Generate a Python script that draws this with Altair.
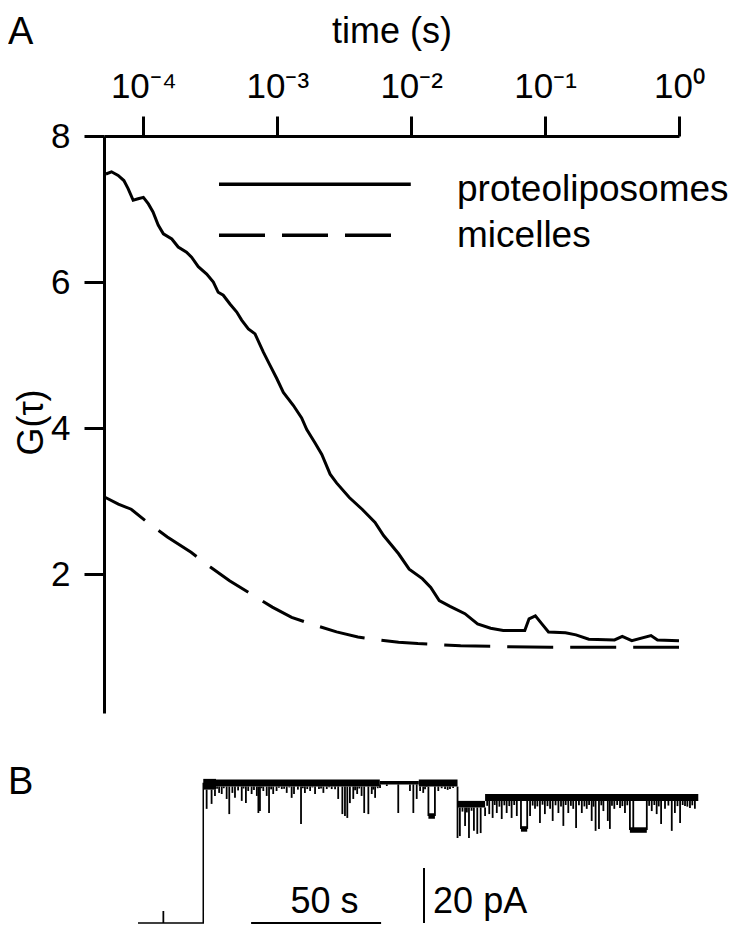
import altair as alt
import pandas as pd

FONT = "Liberation Sans"

# ---------------- Panel A : correlation curves ----------------
prot_t = [5.25e-5, 5.78e-5, 6.48e-5, 7.15e-5, 7.69e-5, 8.39e-5, 9.14e-5, 1.0e-4, 1.09e-4, 1.18e-4,
          1.29e-4, 1.41e-4, 1.63e-4, 1.82e-4, 2.10e-4, 2.29e-4, 2.57e-4, 2.97e-4, 3.33e-4, 3.62e-4,
          3.95e-4, 4.43e-4, 4.98e-4, 5.42e-4, 6.08e-4, 6.82e-4, 7.87e-4, 8.83e-4, 9.91e-4, 1.11e-3,
          1.32e-3, 1.52e-3, 1.66e-3, 1.91e-3, 2.15e-3, 2.48e-3, 2.77e-3, 3.45e-3, 4.30e-3, 5.37e-3,
          6.22e-3, 8.05e-3, 9.66e-3, 1.21e-2, 1.40e-2, 1.62e-2, 1.95e-2, 2.52e-2, 3.13e-2, 3.92e-2,
          4.87e-2, 7.05e-2, 7.59e-2, 8.46e-2, 9.46e-2, 0.106, 0.142, 0.170, 0.212, 0.330,
          0.377, 0.444, 0.618, 0.691, 1.0]
prot_g = [7.48, 7.51, 7.46, 7.39, 7.28, 7.12, 7.14, 7.16, 7.07, 6.96,
          6.78, 6.66, 6.59, 6.48, 6.41, 6.34, 6.21, 6.11, 6.00, 5.86,
          5.82, 5.70, 5.59, 5.48, 5.36, 5.29, 5.04, 4.86, 4.68, 4.49,
          4.31, 4.14, 3.98, 3.80, 3.64, 3.37, 3.25, 3.05, 2.89, 2.71,
          2.53, 2.28, 2.07, 1.94, 1.82, 1.64, 1.56, 1.46, 1.32, 1.26,
          1.23, 1.23, 1.39, 1.43, 1.32, 1.21, 1.20, 1.17, 1.11, 1.10,
          1.15, 1.09, 1.16, 1.10, 1.09]

mic_t = [5.21e-5, 6.50e-5, 8.11e-5, 1.09e-4, 1.51e-4, 2.27e-4, 3.16e-4, 4.40e-4, 6.35e-4, 9.18e-4,
         1.28e-3, 1.78e-3, 2.77e-3, 4.00e-3, 5.77e-3, 8.05e-3, 1.12e-2, 2.34e-2, 4.53e-2, 0.110, 1.0]
mic_g = [3.05, 2.96, 2.89, 2.70, 2.51, 2.30, 2.10, 1.91, 1.73, 1.55,
         1.41, 1.32, 1.21, 1.14, 1.10, 1.07, 1.05, 1.02, 1.01, 1.00, 1.00]

x_tick_values = [1e-4, 1e-3, 1e-2, 1e-1, 1.0]
x_tick_labels = ["10⁻⁴", "10⁻³", "10⁻²", "10⁻¹", "10⁰"]
y_tick_values = [2, 4, 6, 8]

legend_names = ["proteoliposomes", "micelles"]

# ---------------- Panel B : current trace ----------------
# baseline / step (time in s, current in pA)
trace_t = [0, 9.7, 9.7, 9.8, 9.8, 25.1, 25.1]
trace_i = [0, 0, 4.1, 4.1, 0, 0, 51.0]

# open-level noise bands
band_t0 = [25.1, 30.0, 93.0, 108.0, 122.9, 133.5]
band_t1 = [30.0, 93.0, 108.0, 122.9, 133.5, 215.5]
band_lo = [48.5, 49.6, 50.4, 49.6, 42.0, 44.4]
band_hi = [52.4, 52.2, 51.6, 52.2, 44.4, 46.9]

# brief closures (spikes): time and depth
spike_t = [26.4, 28.3, 29.6, 31.2, 32.2, 34.1, 35.1, 36.3, 37.3, 39.9, 41.5, 42.4, 43.7, 45.7, 46.3,
           46.9, 48.2, 49.5, 50.4, 52.0, 53.3, 55.3, 57.2, 59.1, 60.0, 62.7, 64.2, 66.2, 68.1, 69.6,
           71.3, 72.6, 74.5, 77.0, 78.6, 79.6, 80.5, 81.5, 82.8, 84.3, 86.0, 87.0, 88.6, 89.9, 91.2,
           93.1, 95.7, 100.1, 104.6, 105.9, 107.2, 108.5, 109.7, 111.0, 111.7, 114.2, 115.5, 118.1, 120.0, 122.9,
           123.8, 125.8, 127.3, 129.2, 130.5, 131.8, 133.5, 135.1, 136.4, 138.0, 139.9, 141.8, 143.7, 145.7, 147.3,
           149.7, 150.8, 152.7, 154.6, 156.5, 158.5, 159.5, 161.7, 163.6, 165.5, 167.4, 168.5, 170.7, 172.6, 174.5,
           176.0, 177.3, 179.0, 180.7, 181.5, 183.2, 185.4, 187.3, 189.2, 190.5, 195.7, 197.6, 199.5, 201.2, 202.7,
           205.3, 206.5, 208.5, 210.4, 212.3, 214.2]
spike_i = [41.5, 43.3, 46.2, 47.3, 46.9, 45.1, 39.6, 47.3, 45.5, 44.4, 43.6, 48.0, 46.9, 46.2, 40.0,
           40.7, 48.0, 46.2, 40.0, 46.9, 48.0, 48.7, 47.3, 45.5, 46.9, 36.0, 47.3, 48.0, 46.9, 48.7,
           47.3, 48.7, 48.7, 45.1, 39.6, 38.9, 38.2, 43.6, 45.1, 46.9, 46.2, 40.0, 39.6, 46.9, 45.5,
           49.1, 49.8, 40.0, 48.0, 40.0, 45.1, 48.0, 47.3, 49.8, 38.9, 38.9, 48.0, 48.7, 48.7, 30.9,
           31.6, 35.3, 30.9, 33.5, 32.4, 32.7, 38.9, 39.6, 38.2, 40.0, 37.8, 40.0, 38.2, 38.9, 34.2,
           34.2, 38.9, 41.5, 36.4, 39.6, 41.5, 37.1, 40.0, 35.3, 40.0, 41.5, 34.5, 40.0, 41.5, 37.1,
           33.5, 34.2, 40.7, 37.1, 34.2, 41.5, 41.8, 40.0, 33.8, 33.8, 33.8, 40.7, 39.6, 36.0, 41.5,
           33.5, 40.0, 36.4, 42.5, 41.8, 41.5]

# short flickers that thicken the open-level noise
flick_t = [27.3, 30.4, 33.0, 38.5, 40.6, 44.6, 47.5, 51.2, 54.2, 56.2, 58.2, 61.5, 63.4, 65.1, 67.1,
           70.4, 73.5, 75.8, 83.5, 85.1, 90.5, 92.2, 110.4, 116.8, 119.1, 121.2,
           124.8, 126.5, 128.3, 134.3, 137.2, 139.0, 140.9, 142.8, 144.7, 151.8, 153.6, 155.6, 157.5, 160.6,
           162.7, 164.5, 166.5, 169.6, 171.7, 173.5, 175.2, 178.2, 182.3, 184.3, 186.3, 188.2, 196.6, 198.6,
           200.3, 204.0, 207.5, 209.5, 211.3, 213.2]
flick_i = [48.5, 48.8, 49.0, 48.2, 48.9, 48.4, 49.0, 48.6, 49.2, 48.8, 49.3, 48.5, 49.0, 48.7, 49.3,
           48.9, 49.4, 48.6, 48.3, 48.9, 48.5, 49.0, 48.6, 49.0, 48.4, 49.1,
           40.5, 40.2, 40.8, 42.6, 42.9, 42.3, 42.8, 42.5, 42.9, 42.7, 42.4, 43.0, 42.5, 42.8,
           42.4, 42.9, 42.6, 42.8, 42.4, 42.9, 42.3, 42.8, 42.6, 42.9, 42.5, 42.8, 42.6, 42.9,
           42.4, 42.7, 42.5, 42.9, 42.3, 42.8]

# longer sub-conductance dwells
sub_t0 = [111.7, 147.3, 189.2]
sub_t1 = [114.2, 149.7, 195.7]
sub_i = [38.9, 34.2, 33.8]

# scale bars
bar_s = 50      # seconds
bar_pa = 20     # pA
bar_labels = ["50 s", "20 pA"]

# ======================= build tables =======================
prot_df = pd.DataFrame({"t": prot_t, "G": prot_g})
mic_df = pd.DataFrame({"t": mic_t, "G": mic_g})


def level_at(t):
    for a, b, lo in zip(band_t0, band_t1, band_lo):
        if a <= t <= b:
            return lo
    return band_lo[-1]


all_t = spike_t + flick_t
all_i = spike_i + flick_i
spike_df = pd.DataFrame({"t": all_t, "depth": all_i, "level": [level_at(t) for t in all_t]})
band_df = pd.DataFrame({"t0": band_t0, "t1": band_t1, "lo": band_lo, "hi": band_hi})
sub_df = pd.DataFrame({"t0": sub_t0, "t1": sub_t1,
                       "lo": [v - 1.0 for v in sub_i], "hi": [v + 1.0 for v in sub_i]})
trace_df = pd.DataFrame({"t": trace_t, "I": trace_i, "order": list(range(len(trace_t)))})

# ======================= Panel A =======================
W_A, H_A = 575, 577
xsA = alt.Scale(type="log", domain=[5.08e-5, 1.0], nice=False)
ysA = alt.Scale(domain=[0.1, 8], nice=False)

label_expr = ""
for v, lab in zip(x_tick_values[:-1], x_tick_labels[:-1]):
    label_expr += f"datum.value < {v * 3} ? '{lab}' : "
label_expr += f"'{x_tick_labels[-1]}'"

x_axis = alt.Axis(orient="top", values=x_tick_values, labelExpr=label_expr, grid=False,
                  tickSize=20, tickWidth=3, domainWidth=3, tickColor="black", domainColor="black",
                  labelFont=FONT, labelFontSize=35, labelColor="black", labelPadding=12,
                  labelFlush=False, labelOverlap=False,
                  title="time (s)", titleFont=FONT, titleFontSize=36, titleFontWeight="normal",
                  titleColor="black", titlePadding=19)
y_axis = alt.Axis(values=y_tick_values, format="d", grid=False, tickSize=20, tickWidth=3,
                  domainWidth=3, tickColor="black", domainColor="black", labelFont=FONT,
                  labelFontSize=35, labelColor="black", labelPadding=14, labelFlush=False,
                  title="G(τ)", titleFont=FONT, titleFontSize=36, titleFontWeight="normal",
                  titleColor="black", titleX=-54, titleY=286)

solid = alt.Chart(prot_df).mark_line(color="black", strokeWidth=3).encode(
    x=alt.X("t:Q", scale=xsA, axis=x_axis),
    y=alt.Y("G:Q", scale=ysA, axis=y_axis),
)
dashed = alt.Chart(mic_df).mark_line(color="black", strokeWidth=3, strokeDash=[46, 17]).encode(
    x=alt.X("t:Q", scale=xsA),
    y=alt.Y("G:Q", scale=ysA),
)

# legend drawn inside the plot (positions in data units)
leg_line_df = pd.DataFrame({"t0": [3.67e-4, 3.67e-4], "t1": [9.93e-3, 7.10e-3],
                            "G": [7.34, 6.64], "name": legend_names})
leg_solid = alt.Chart(leg_line_df.iloc[[0]]).mark_rule(color="black", strokeWidth=3.5).encode(
    x=alt.X("t0:Q", scale=xsA), x2="t1:Q", y=alt.Y("G:Q", scale=ysA))
leg_dash = alt.Chart(leg_line_df.iloc[[1]]).mark_rule(color="black", strokeWidth=3.5,
                                                       strokeDash=[46, 17]).encode(
    x=alt.X("t0:Q", scale=xsA), x2="t1:Q", y=alt.Y("G:Q", scale=ysA))
leg_text_df = pd.DataFrame({"t": [0.0220, 0.0220], "G": [7.11, 6.48], "name": legend_names})
leg_text = alt.Chart(leg_text_df).mark_text(font=FONT, fontSize=37, align="left",
                                            baseline="alphabetic", color="black").encode(
    x=alt.X("t:Q", scale=xsA), y=alt.Y("G:Q", scale=ysA), text="name:N")

letterA = alt.Chart(pd.DataFrame({"s": ["A"]})).mark_text(
    font=FONT, fontSize=38, align="left", baseline="alphabetic", color="black").encode(
    x=alt.value(-96), y=alt.value(-92), text="s:N")

panelA = alt.layer(solid, dashed, leg_solid, leg_dash, leg_text, letterA).properties(
    width=W_A, height=H_A)

# ======================= Panel B =======================
W_B, H_B = 600, 162
xsB = alt.Scale(domain=[-13.08, 217.7], nice=False, zero=False)
ysB = alt.Scale(domain=[0, 58.9], nice=False, zero=False)

base_line = alt.Chart(trace_df).mark_line(color="black", strokeWidth=1.5).encode(
    x=alt.X("t:Q", scale=xsB, axis=None), y=alt.Y("I:Q", scale=ysB, axis=None), order="order:Q")
bands = alt.Chart(band_df).mark_rect(color="black").encode(
    x=alt.X("t0:Q", scale=xsB, axis=None), x2="t1:Q",
    y=alt.Y("lo:Q", scale=ysB, axis=None), y2="hi:Q")
spikes = alt.Chart(spike_df).mark_rule(color="black", strokeWidth=1.8).encode(
    x=alt.X("t:Q", scale=xsB, axis=None),
    y=alt.Y("level:Q", scale=ysB, axis=None), y2="depth:Q")
subs = alt.Chart(sub_df).mark_rect(color="black").encode(
    x=alt.X("t0:Q", scale=xsB, axis=None), x2="t1:Q",
    y=alt.Y("lo:Q", scale=ysB, axis=None), y2="hi:Q")

hbar_df = pd.DataFrame({"t0": [43.5], "t1": [43.5 + bar_s], "I": [0]})
vbar_df = pd.DataFrame({"t": [110.0], "I0": [0], "I1": [bar_pa]})
hbar = alt.Chart(hbar_df).mark_rule(color="black", strokeWidth=2).encode(
    x=alt.X("t0:Q", scale=xsB, axis=None), x2="t1:Q", y=alt.Y("I:Q", scale=ysB, axis=None))
vbar = alt.Chart(vbar_df).mark_rule(color="black", strokeWidth=2).encode(
    x=alt.X("t:Q", scale=xsB, axis=None), y=alt.Y("I0:Q", scale=ysB, axis=None), y2="I1:Q")

bar_text_df = pd.DataFrame({"t": [71.7, 113.5], "I": [3.6, 3.6], "lab": bar_labels})
txt_s = alt.Chart(bar_text_df.iloc[[0]]).mark_text(font=FONT, fontSize=36, align="center",
                                                     baseline="alphabetic", color="black").encode(
    x=alt.X("t:Q", scale=xsB, axis=None), y=alt.Y("I:Q", scale=ysB, axis=None), text="lab:N")
txt_pa = alt.Chart(bar_text_df.iloc[[1]]).mark_text(font=FONT, fontSize=36, align="left",
                                                      baseline="alphabetic", color="black").encode(
    x=alt.X("t:Q", scale=xsB, axis=None), y=alt.Y("I:Q", scale=ysB, axis=None), text="lab:N")

letterB = alt.Chart(pd.DataFrame({"s": ["B"]})).mark_text(
    font=FONT, fontSize=38, align="left", baseline="alphabetic", color="black").encode(
    x=alt.value(-96), y=alt.value(33), text="s:N")

panelB = alt.layer(base_line, bands, subs, spikes, hbar, vbar, txt_s, txt_pa, letterB).properties(
    width=W_B, height=H_B)

chart = alt.vconcat(panelA, panelB, spacing=48, bounds="flush",
                    padding={"left": 0, "top": 5, "right": 0, "bottom": 0},
                    background="white").configure_view(strokeWidth=0, stroke="transparent")

chart.save("out.html", embed_options={"renderer": "svg", "actions": False})
